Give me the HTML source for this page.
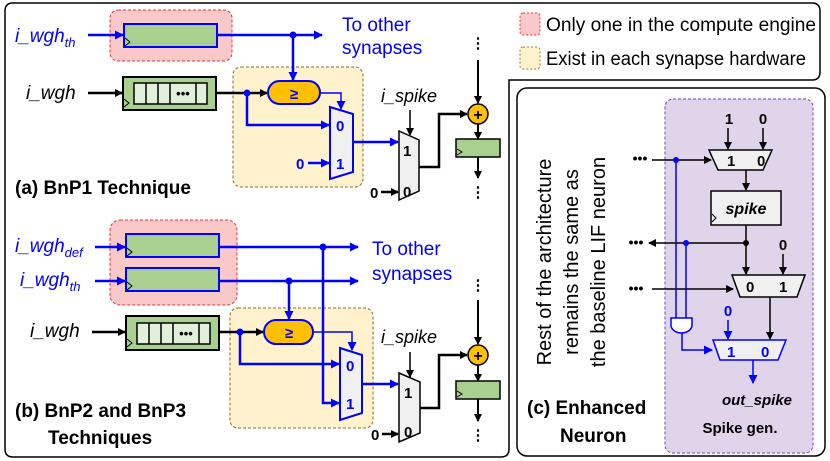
<!DOCTYPE html>
<html><head><meta charset="utf-8"><style>
html,body{margin:0;padding:0;background:#fff;}
svg{display:block;font-family:"Liberation Sans",sans-serif;}
.b{font-weight:bold}
</style></head><body>
<svg width="830" height="461" viewBox="0 0 830 461" xmlns="http://www.w3.org/2000/svg">
<defs>
<marker id="ak" markerWidth="8" markerHeight="8" refX="7" refY="4" orient="auto" markerUnits="userSpaceOnUse"><path d="M0,0 L8,4 L0,8 z" fill="#000"/></marker>
<marker id="ab" markerWidth="9" markerHeight="9" refX="8" refY="4.5" orient="auto" markerUnits="userSpaceOnUse"><path d="M0,0 L9,4.5 L0,9 z" fill="#0000ff"/></marker>
</defs>
<path d="M13,3 H812 Q820,3 820,11 V72 Q820,80 812,80 H509 V449 Q509,457 501,457 H13 Q5,457 5,449 V11 Q5,3 13,3 Z" fill="none" stroke="#000" stroke-width="1.5"/>
<rect x="520" y="13" width="20" height="22" rx="3" fill="#f9c8c8" stroke="#e33" stroke-dasharray="2,2"/>
<text x="546" y="31" font-size="19" textLength="270" lengthAdjust="spacingAndGlyphs">Only one in the compute engine</text>
<rect x="520" y="47" width="20" height="22" rx="3" fill="#fff2cc" stroke="#9b7a2a" stroke-dasharray="2,2"/>
<text x="546" y="65" font-size="19" textLength="260" lengthAdjust="spacingAndGlyphs">Exist in each synapse hardware</text>

<rect x="110" y="10" width="122" height="51" rx="8" fill="#f9c8c8" stroke="#e33" stroke-dasharray="3,2"/>
<rect x="233" y="67" width="130" height="120" rx="8" fill="#fff2cc" stroke="#8a6d2a" stroke-dasharray="3,2"/>
<text x="15" y="42" font-size="19" font-style="italic" fill="#00f">i_wgh<tspan font-size="13" dy="5">th</tspan></text>
<line x1="88" y1="35" x2="123" y2="35" stroke="#00f" stroke-width="2.5" marker-end="url(#ab)"/>
<rect x="124" y="24" width="93" height="23" fill="#a9d08e" stroke="#00f" stroke-width="2"/>
<path d="M125,38 L130,42 L125,46" fill="none" stroke="#000"/>
<line x1="217" y1="35" x2="322" y2="35" stroke="#00f" stroke-width="2.5" marker-end="url(#ab)"/>
<circle cx="293" cy="35" r="3.5" fill="#00f"/>
<line x1="293" y1="35" x2="293" y2="80" stroke="#00f" stroke-width="2.5" marker-end="url(#ab)"/>
<text x="342" y="31" font-size="19" fill="#00f">To other</text>
<text x="342" y="54" font-size="19" fill="#00f">synapses</text>
<text x="26" y="99" font-size="19" font-style="italic">i_wgh</text>
<line x1="88" y1="93" x2="122" y2="93" stroke="#000" stroke-width="2.5" marker-end="url(#ak)"/>
<rect x="123" y="77" width="93" height="33" fill="#a9d08e" stroke="#000" stroke-width="2"/>
<rect x="134" y="83" width="73" height="21" fill="#e2efda" stroke="#000" stroke-width="1.5"/>
<path d="M146,83V104M158,83V104M170,83V104M196,83V104" stroke="#000" stroke-width="1.5"/>
<text x="183" y="98" font-size="13" text-anchor="middle" class="b">•••</text>
<path d="M124,99 L129,103 L124,107" fill="none" stroke="#000"/>
<line x1="216" y1="93" x2="267" y2="93" stroke="#000" stroke-width="2.5" marker-end="url(#ak)"/>
<circle cx="247" cy="93" r="3.5" fill="#00f"/>
<rect x="268" y="81" width="52" height="23" rx="11.5" fill="#ffc000" stroke="#00f" stroke-width="2"/>
<text x="294" y="99" font-size="15" text-anchor="middle" class="b" fill="#00f">≥</text>
<path d="M320,93 H341 V109" fill="none" stroke="#00f" stroke-width="1.5" marker-end="url(#ab)"/>
<path d="M247,93 V125 H329" fill="none" stroke="#00f" stroke-width="2.5" marker-end="url(#ab)"/>
<path d="M330,107 L353,114 L353,172 L330,179 Z" fill="#f0f0f0" stroke="#00f" stroke-width="2"/>
<text x="336" y="131" font-size="15" class="b" fill="#00f">0</text>
<text x="336" y="169" font-size="15" class="b" fill="#00f">1</text>
<text x="296" y="169" font-size="15" class="b" fill="#00f">0</text>
<line x1="308" y1="163" x2="329" y2="163" stroke="#00f" stroke-width="2.5" marker-end="url(#ab)"/>
<line x1="353" y1="142" x2="398" y2="142" stroke="#00f" stroke-width="2.5" marker-end="url(#ab)"/>
<text x="381" y="102" font-size="18" font-style="italic">i_spike</text>
<line x1="410" y1="110" x2="410" y2="135" stroke="#000" stroke-width="1.5" marker-end="url(#ak)"/>
<path d="M399,131 L419,140 L419,191 L399,200 Z" fill="#f0f0f0" stroke="#000" stroke-width="1.5"/>
<text x="403" y="156" font-size="15" class="b">1</text>
<text x="403" y="197" font-size="15" class="b">0</text>
<text x="370" y="198" font-size="15" class="b">0</text>
<line x1="381" y1="192" x2="398" y2="192" stroke="#000" stroke-width="2.5" marker-end="url(#ak)"/>
<path d="M419,167 H439 V114 H467" fill="none" stroke="#000" stroke-width="2.5" marker-end="url(#ak)"/>
<text x="478" y="48" font-size="15" class="b" text-anchor="middle">⋮</text>
<line x1="478" y1="60" x2="478" y2="103" stroke="#000" stroke-width="2" marker-end="url(#ak)"/>
<circle cx="478" cy="114" r="10" fill="#ffc000" stroke="#000" stroke-width="1.5"/>
<text x="478" y="120" font-size="16" class="b" text-anchor="middle">+</text>
<line x1="478" y1="124" x2="478" y2="139" stroke="#000" stroke-width="2" marker-end="url(#ak)"/>
<rect x="456" y="139" width="44" height="18" fill="#a9d08e" stroke="#000" stroke-width="1.5"/>
<path d="M457,149 L462,152 L457,155" fill="none" stroke="#000"/>
<line x1="478" y1="157" x2="478" y2="178" stroke="#000" stroke-width="2" marker-end="url(#ak)"/>
<text x="478" y="197" font-size="15" class="b" text-anchor="middle">⋮</text>
<text x="15" y="194" font-size="19" class="b">(a) BnP1 Technique</text>

<rect x="110" y="220" width="127" height="85" rx="10" fill="#f9c8c8" stroke="#e33" stroke-dasharray="3,2"/>
<rect x="230" y="308" width="143" height="120" rx="8" fill="#fff2cc" stroke="#8a6d2a" stroke-dasharray="3,2"/>
<text x="15" y="252" font-size="19" font-style="italic" fill="#00f">i_wgh<tspan font-size="13" dy="5">def</tspan></text>
<text x="20" y="286" font-size="19" font-style="italic" fill="#00f">i_wgh<tspan font-size="13" dy="5">th</tspan></text>
<line x1="95" y1="247" x2="125" y2="247" stroke="#00f" stroke-width="2.5" marker-end="url(#ab)"/>
<line x1="95" y1="281" x2="125" y2="281" stroke="#00f" stroke-width="2.5" marker-end="url(#ab)"/>
<rect x="126" y="234" width="93" height="23" fill="#a9d08e" stroke="#00f" stroke-width="2"/>
<rect x="126" y="268" width="93" height="23" fill="#a9d08e" stroke="#00f" stroke-width="2"/>
<path d="M127,248 L132,252 L127,256M127,282 L132,286 L127,290" fill="none" stroke="#000"/>
<line x1="219" y1="247" x2="358" y2="247" stroke="#00f" stroke-width="2.5" marker-end="url(#ab)"/>
<line x1="219" y1="281" x2="358" y2="281" stroke="#00f" stroke-width="2.5" marker-end="url(#ab)"/>
<circle cx="323" cy="247" r="3.5" fill="#00f"/>
<circle cx="289" cy="281" r="3.5" fill="#00f"/>
<text x="372" y="255" font-size="19" fill="#00f">To other</text>
<text x="372" y="280" font-size="19" fill="#00f">synapses</text>
<line x1="289" y1="281" x2="289" y2="319" stroke="#00f" stroke-width="2.5" marker-end="url(#ab)"/>
<path d="M323,247 V403 H339" fill="none" stroke="#00f" stroke-width="2.5" marker-end="url(#ab)"/>
<text x="30" y="337" font-size="19" font-style="italic">i_wgh</text>
<line x1="92" y1="332" x2="125" y2="332" stroke="#000" stroke-width="2.5" marker-end="url(#ak)"/>
<rect x="126" y="316" width="93" height="34" fill="#a9d08e" stroke="#000" stroke-width="2"/>
<rect x="137" y="323" width="73" height="21" fill="#e2efda" stroke="#000" stroke-width="1.5"/>
<path d="M149,323V344M161,323V344M173,323V344M199,323V344" stroke="#000" stroke-width="1.5"/>
<text x="186" y="338" font-size="13" text-anchor="middle" class="b">•••</text>
<path d="M127,339 L132,343 L127,347" fill="none" stroke="#000"/>
<line x1="219" y1="332" x2="263" y2="332" stroke="#000" stroke-width="2.5" marker-end="url(#ak)"/>
<circle cx="240" cy="332" r="3.5" fill="#00f"/>
<rect x="264" y="320" width="49" height="24" rx="12" fill="#ffc000" stroke="#00f" stroke-width="2"/>
<text x="289" y="338" font-size="15" text-anchor="middle" class="b" fill="#00f">≥</text>
<path d="M313,332 H352 V350" fill="none" stroke="#00f" stroke-width="1.5" marker-end="url(#ab)"/>
<path d="M240,332 V364 H339" fill="none" stroke="#00f" stroke-width="2.5" marker-end="url(#ab)"/>
<path d="M340,348 L362,355 L362,413 L340,420 Z" fill="#f0f0f0" stroke="#00f" stroke-width="2"/>
<text x="346" y="371" font-size="15" class="b" fill="#00f">0</text>
<text x="346" y="409" font-size="15" class="b" fill="#00f">1</text>
<line x1="362" y1="384" x2="398" y2="384" stroke="#00f" stroke-width="2.5" marker-end="url(#ab)"/>
<text x="381" y="343" font-size="18" font-style="italic">i_spike</text>
<line x1="410" y1="352" x2="410" y2="377" stroke="#000" stroke-width="1.5" marker-end="url(#ak)"/>
<path d="M399,373 L420,382 L420,433 L399,442 Z" fill="#f0f0f0" stroke="#000" stroke-width="1.5"/>
<text x="404" y="398" font-size="15" class="b">1</text>
<text x="404" y="437" font-size="15" class="b">0</text>
<text x="371" y="440" font-size="15" class="b">0</text>
<line x1="382" y1="434" x2="398" y2="434" stroke="#000" stroke-width="2.5" marker-end="url(#ak)"/>
<path d="M420,408 H439 V355 H467" fill="none" stroke="#000" stroke-width="2.5" marker-end="url(#ak)"/>
<text x="478" y="290" font-size="15" class="b" text-anchor="middle">⋮</text>
<line x1="478" y1="300" x2="478" y2="344" stroke="#000" stroke-width="2" marker-end="url(#ak)"/>
<circle cx="478" cy="355" r="10" fill="#ffc000" stroke="#000" stroke-width="1.5"/>
<text x="478" y="361" font-size="16" class="b" text-anchor="middle">+</text>
<line x1="478" y1="365" x2="478" y2="381" stroke="#000" stroke-width="2" marker-end="url(#ak)"/>
<rect x="456" y="381" width="44" height="18" fill="#a9d08e" stroke="#000" stroke-width="1.5"/>
<path d="M457,391 L462,394 L457,397" fill="none" stroke="#000"/>
<line x1="478" y1="399" x2="478" y2="421" stroke="#000" stroke-width="2" marker-end="url(#ak)"/>
<text x="478" y="440" font-size="15" class="b" text-anchor="middle">⋮</text>
<text x="15" y="417" font-size="19" class="b">(b) BnP2 and BnP3</text>
<text x="48" y="444" font-size="19" class="b">Techniques</text>

<rect x="517" y="88" width="308" height="368" rx="10" fill="none" stroke="#000" stroke-width="1.5"/>
<rect x="665" y="99" width="148" height="354" rx="8" fill="#e0d4ea" stroke="#8040c0" stroke-dasharray="3,2"/>
<g transform="translate(575,262) rotate(-90)" font-size="20" text-anchor="middle">
<text x="0" y="-24">Rest of the architecture</text>
<text x="0" y="3">remains the same as</text>
<text x="0" y="30">the baseline LIF neuron</text>
</g>
<text x="729" y="124" font-size="15" class="b" text-anchor="middle">1</text>
<text x="763" y="124" font-size="15" class="b" text-anchor="middle">0</text>
<line x1="728" y1="128" x2="728" y2="149" stroke="#000" stroke-width="1.5" marker-end="url(#ak)"/>
<line x1="763" y1="128" x2="763" y2="149" stroke="#000" stroke-width="1.5" marker-end="url(#ak)"/>
<path d="M709,150 L772,150 L763,170 L718,170 Z" fill="#f0f0f0" stroke="#000" stroke-width="1.5"/>
<text x="727" y="166" font-size="15" class="b">1</text>
<text x="757" y="166" font-size="15" class="b">0</text>
<text x="640" y="163" font-size="14" class="b" text-anchor="middle">•••</text>
<line x1="652" y1="160" x2="711" y2="160" stroke="#000" stroke-width="1.5" marker-end="url(#ak)"/>
<circle cx="676" cy="160" r="3" fill="#00f"/>
<line x1="746" y1="170" x2="746" y2="190" stroke="#000" stroke-width="1.5" marker-end="url(#ak)"/>
<rect x="711" y="191" width="70" height="34" fill="#f0f0f0" stroke="#000" stroke-width="1.5"/>
<path d="M712,214 L716,218 L712,222" fill="none" stroke="#000"/>
<text x="746" y="214" font-size="16" class="b" font-style="italic" text-anchor="middle">spike</text>
<line x1="746" y1="225" x2="746" y2="274" stroke="#000" stroke-width="1.5" marker-end="url(#ak)"/>
<circle cx="746" cy="243" r="3" fill="#000"/>
<line x1="746" y1="243" x2="649" y2="243" stroke="#000" stroke-width="1.5" marker-end="url(#ak)"/>
<text x="636" y="247" font-size="14" class="b" text-anchor="middle">•••</text>
<circle cx="686" cy="243" r="3" fill="#00f"/>
<text x="783" y="250" font-size="15" class="b" text-anchor="middle">0</text>
<line x1="783" y1="254" x2="783" y2="274" stroke="#000" stroke-width="1.5" marker-end="url(#ak)"/>
<path d="M732,275 L805,275 L797,297 L740,297 Z" fill="#f0f0f0" stroke="#000" stroke-width="1.5"/>
<text x="746" y="292" font-size="15" class="b">0</text>
<text x="779" y="292" font-size="15" class="b">1</text>
<text x="636" y="293" font-size="14" class="b" text-anchor="middle">•••</text>
<line x1="652" y1="289" x2="733" y2="289" stroke="#000" stroke-width="1.5" marker-end="url(#ak)"/>
<line x1="770" y1="297" x2="770" y2="339" stroke="#000" stroke-width="1.5" marker-end="url(#ak)"/>
<line x1="676" y1="160" x2="676" y2="318" stroke="#00f" stroke-width="1.5"/>
<line x1="686" y1="243" x2="686" y2="318" stroke="#00f" stroke-width="1.5"/>
<path d="M671,318 H692 V325 A10.5,8 0 0 1 671,325 Z" fill="#fff" stroke="#00f" stroke-width="1.5"/>
<path d="M682,333 V350 H712" fill="none" stroke="#00f" stroke-width="1.5" marker-end="url(#ab)"/>
<text x="728" y="316" font-size="15" class="b" fill="#00f" text-anchor="middle">0</text>
<line x1="728" y1="320" x2="728" y2="339" stroke="#00f" stroke-width="1.5" marker-end="url(#ab)"/>
<path d="M713,340 L786,340 L778,360 L720,360 Z" fill="#f0f0f0" stroke="#00f" stroke-width="1.5"/>
<text x="727" y="357" font-size="15" class="b" fill="#00f">1</text>
<text x="761" y="357" font-size="15" class="b" fill="#00f">0</text>
<line x1="753" y1="360" x2="753" y2="383" stroke="#00f" stroke-width="1.5" marker-end="url(#ab)"/>
<text x="757" y="405" font-size="15" class="b" font-style="italic" text-anchor="middle">out_spike</text>
<text x="740" y="433" font-size="15" class="b" text-anchor="middle">Spike gen.</text>
<text x="527" y="414" font-size="19" class="b">(c) Enhanced</text>
<text x="560" y="442" font-size="19" class="b">Neuron</text>
</svg>
</body></html>
